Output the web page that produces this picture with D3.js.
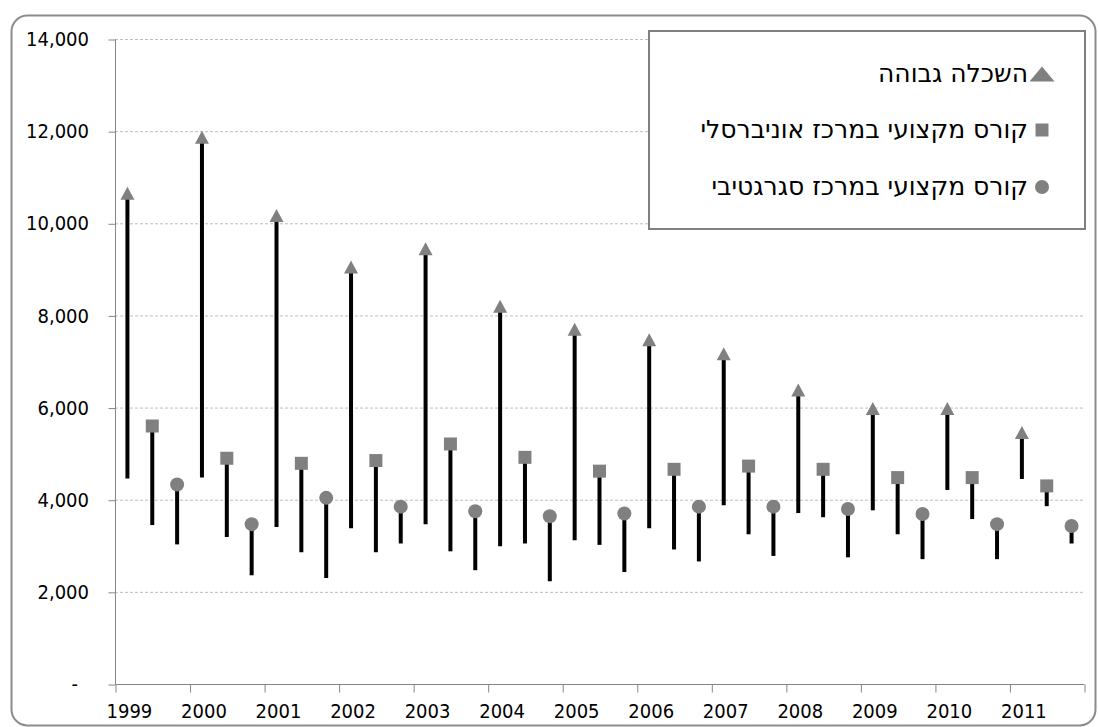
<!DOCTYPE html>
<html>
<head>
<meta charset="utf-8">
<script src="https://cdn.jsdelivr.net/npm/d3@7"></script>
<style>
  html, body { margin: 0; padding: 0; background: #ffffff; }
  svg { display: block; }
  .tick-label { font-family: "DejaVu Sans Condensed", "DejaVu Sans", sans-serif; font-size: 20px; fill: #000; }
  .legend-label { font-family: "DejaVu Sans", sans-serif; font-size: 25px; fill: #000; }
</style>
</head>
<body>
<svg id="chart" width="1098" height="727"></svg>
<script>
// Yearly ranges (low to high) for three kinds of study tracks
const years = [1999, 2000, 2001, 2002, 2003, 2004, 2005, 2006, 2007, 2008, 2009, 2010, 2011];

const higherEdHigh = [10650, 11870, 10170, 9050, 9450, 8200, 7700, 7470, 7170, 6380, 5980, 5980, 5460];
const higherEdLow  = [4460, 4480, 3410, 3380, 3470, 2990, 3120, 3380, 3880, 3710, 3770, 4210, 4450];

const universalHigh = [5600, 4900, 4790, 4850, 5210, 4920, 4620, 4660, 4730, 4660, 4480, 4480, 4300];
const universalLow  = [3450, 3190, 2860, 2860, 2880, 3050, 3020, 2920, 3250, 3620, 3250, 3580, 3860];

const segregHigh = [4330, 3470, 4040, 3850, 3750, 3640, 3700, 3850, 3850, 3800, 3690, 3470, 3430];
const segregLow  = [3030, 2360, 2300, 3050, 2470, 2230, 2430, 2660, 2780, 2750, 2710, 2710, 3050];

const seriesNames = [
  "השכלה גבוהה",
  "קורס מקצועי במרכז אוניברסלי",
  "קורס מקצועי במרכז סגרגטיבי"
];

const yTicks = [0, 2000, 4000, 6000, 8000, 10000, 12000, 14000];

const series = [
  { name: seriesNames[0], high: higherEdHigh, low: higherEdLow, shape: "triangle" },
  { name: seriesNames[1], high: universalHigh, low: universalLow, shape: "square" },
  { name: seriesNames[2], high: segregHigh, low: segregLow, shape: "circle" }
];

const svg = d3.select("#chart");
const markerColor = "#808080";
const axisColor = "#868686";

// Plot area
const plot = { left: 115, right: 1084, top: 39, bottom: 684 };

const y = d3.scaleLinear().domain([0, 14000]).range([plot.bottom, plot.top]);
// One slot per (year, series) pair: 39 categories along the axis
const nCat = years.length * series.length;
const x = d3.scaleLinear().domain([0, nCat]).range([plot.left, plot.right]);
const catCenter = (yi, si) => x(yi * series.length + si + 0.5);

// Outer rounded frame
svg.append("rect")
  .attr("x", 11.5).attr("y", 15.5)
  .attr("width", 1084).attr("height", 710)
  .attr("rx", 16).attr("ry", 16)
  .attr("fill", "none")
  .attr("stroke", "#8c8c8c")
  .attr("stroke-width", 2);

// Horizontal gridlines
svg.append("g")
  .selectAll("line")
  .data(yTicks.filter(d => d > 0))
  .join("line")
  .attr("x1", plot.left).attr("x2", plot.right)
  .attr("y1", d => y(d) + 0.5).attr("y2", d => y(d) + 0.5)
  .attr("stroke", "#bdbdbd")
  .attr("stroke-width", 1)
  .attr("stroke-dasharray", "3,2");

// Y axis
const yAxis = d3.axisLeft(y)
  .tickValues(yTicks)
  .tickSize(7)
  .tickPadding(0)
  .tickFormat("");
const gy = svg.append("g").attr("transform", `translate(${plot.left + 0.5},0.5)`).call(yAxis);
gy.select(".domain").attr("stroke", axisColor).attr("d", `M0,${plot.top}V${plot.bottom}`);
gy.selectAll(".tick line").attr("stroke", axisColor);

svg.append("g")
  .selectAll("text")
  .data(yTicks)
  .join("text")
  .attr("class", "tick-label")
  .attr("x", d => d === 0 ? 78 : 89)
  .attr("y", d => y(d))
  .attr("dy", "0.36em")
  .attr("text-anchor", "end")
  .text(d => d === 0 ? "-" : d3.format(",")(d));

// X axis with ticks at year boundaries
const xAxis = d3.axisBottom(x)
  .tickValues(d3.range(0, nCat + 1, series.length))
  .tickSize(8)
  .tickFormat("");
const gx = svg.append("g").attr("transform", `translate(0.5,${plot.bottom + 0.5})`).call(xAxis);
gx.select(".domain").attr("stroke", axisColor).attr("d", `M${plot.left},0H${plot.right}`);
gx.selectAll(".tick line").attr("stroke", axisColor);

svg.append("g")
  .selectAll("text")
  .data(years)
  .join("text")
  .attr("class", "tick-label")
  .attr("x", (d, i) => catCenter(i, 0) + 2)
  .attr("y", 718)
  .attr("text-anchor", "middle")
  .text(d => d);

// Marker shapes
function markerPath(shape, legendSize) {
  if (shape === "triangle") return legendSize ? "M0,-7.5L12.5,7.5L-12.5,7.5Z" : "M0,-6.5L7,6.5L-7,6.5Z";
  if (shape === "square") return "M-6.5,-6.5H6.5V6.5H-6.5Z";
  return d3.symbol(d3.symbolCircle, Math.PI * 7 * 7)();
}

// Range sticks and markers
series.forEach((s, si) => {
  const g = svg.append("g");
  g.selectAll("line")
    .data(years)
    .join("line")
    .attr("x1", (d, i) => catCenter(i, si))
    .attr("x2", (d, i) => catCenter(i, si))
    .attr("y1", (d, i) => y(s.low[i]))
    .attr("y2", (d, i) => y(s.high[i]))
    .attr("stroke", "#000")
    .attr("stroke-width", 4);
  g.selectAll("path")
    .data(years)
    .join("path")
    .attr("transform", (d, i) => `translate(${catCenter(i, si)},${y(s.high[i])})`)
    .attr("d", markerPath(s.shape, false))
    .attr("fill", markerColor);
});

// Legend
const legend = svg.append("g");
legend.append("rect")
  .attr("x", 649).attr("y", 31)
  .attr("width", 436).attr("height", 198)
  .attr("fill", "#fff")
  .attr("stroke", "#808080")
  .attr("stroke-width", 2);

const legendRows = [74, 130, 187];
series.forEach((s, si) => {
  legend.append("path")
    .attr("transform", `translate(1042,${legendRows[si]})`)
    .attr("d", markerPath(s.shape, true))
    .attr("fill", markerColor);
  legend.append("text")
    .attr("class", "legend-label")
    .attr("x", 1028)
    .attr("y", legendRows[si] + 8)
    .attr("text-anchor", "start")
    .attr("direction", "rtl")
    .text(s.name);
});
</script>
</body>
</html>
